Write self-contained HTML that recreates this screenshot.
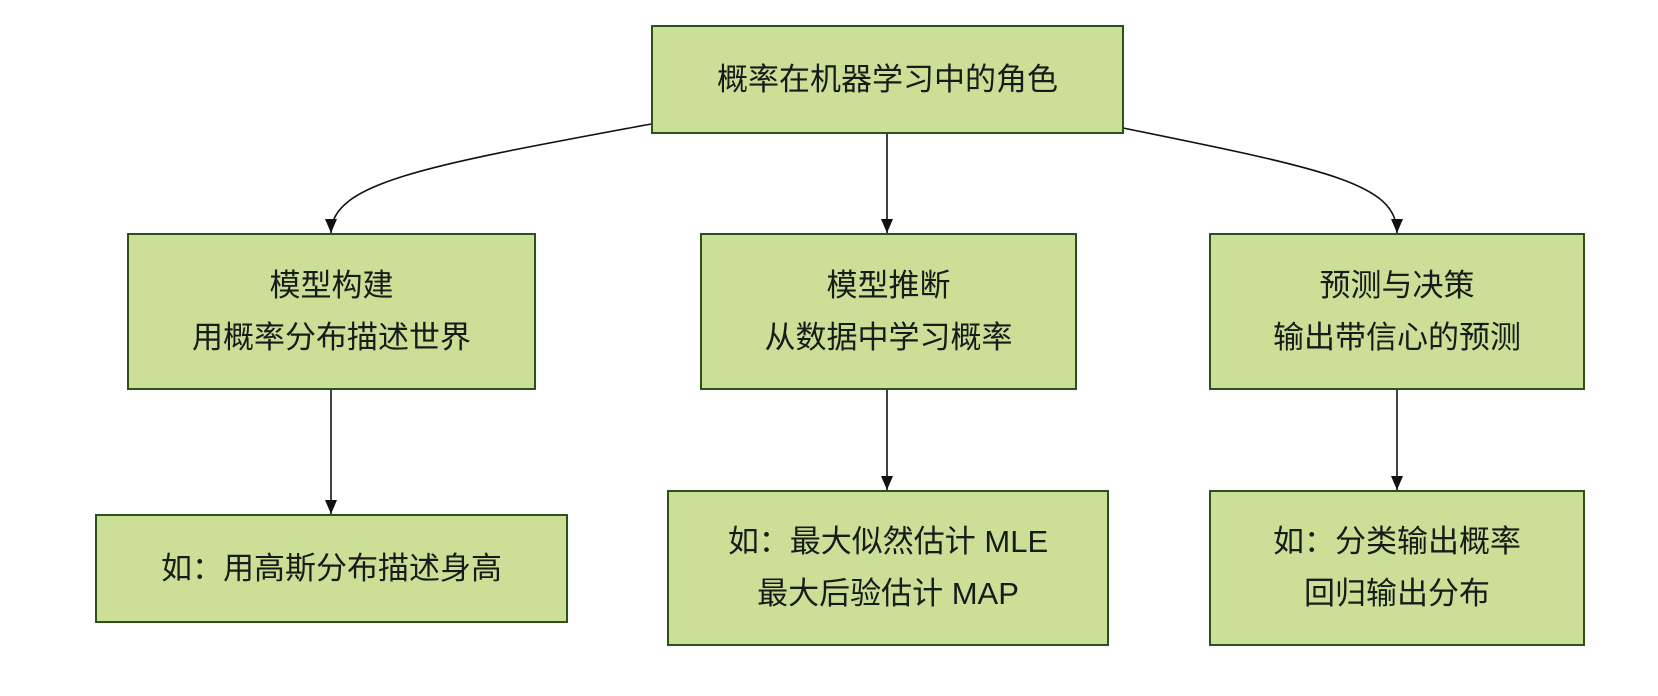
<!DOCTYPE html>
<html><head><meta charset="utf-8"><style>
html,body{margin:0;padding:0;background:#fff;}
body{width:1658px;height:696px;position:relative;overflow:hidden;font-family:"Liberation Sans","Noto Sans CJK SC",sans-serif;}
.b{position:absolute;box-sizing:border-box;background:#cbdf97;border:2px solid #2b5219;display:flex;flex-direction:column;align-items:center;justify-content:center;font-size:31px;color:#1a1a1a;line-height:52px;text-align:center;white-space:nowrap;}
svg{position:absolute;left:0;top:0;}
</style></head><body>
<svg width="1658" height="696">
<defs><marker id="a" markerWidth="14" markerHeight="14" refX="14" refY="7" orient="auto" markerUnits="userSpaceOnUse"><path d="M0,1 L14,7 L0,13 z" fill="#111"/></marker></defs>
<g stroke="#111" stroke-width="1.6" fill="none">
<path d="M651,124 C430,165 331,182 331,233" marker-end="url(#a)"/>
<path d="M887,133 L887,233" marker-end="url(#a)"/>
<path d="M1123,128 C1330,170 1397,184 1397,233" marker-end="url(#a)"/>
<path d="M331,389 L331,514" marker-end="url(#a)"/>
<path d="M887,389 L887,490" marker-end="url(#a)"/>
<path d="M1397,389 L1397,490" marker-end="url(#a)"/>
</g>
</svg>
<div class="b" style="left:651px;top:25px;width:473px;height:109px;">概率在机器学习中的角色</div>
<div class="b" style="left:127px;top:233px;width:409px;height:157px;"><div>模型构建</div><div>用概率分布描述世界</div></div>
<div class="b" style="left:700px;top:233px;width:377px;height:157px;"><div>模型推断</div><div>从数据中学习概率</div></div>
<div class="b" style="left:1209px;top:233px;width:376px;height:157px;"><div>预测与决策</div><div>输出带信心的预测</div></div>
<div class="b" style="left:95px;top:514px;width:473px;height:109px;">如：用高斯分布描述身高</div>
<div class="b" style="left:667px;top:490px;width:442px;height:156px;"><div>如：最大似然估计 MLE</div><div>最大后验估计 MAP</div></div>
<div class="b" style="left:1209px;top:490px;width:376px;height:156px;"><div>如：分类输出概率</div><div>回归输出分布</div></div>
</body></html>
